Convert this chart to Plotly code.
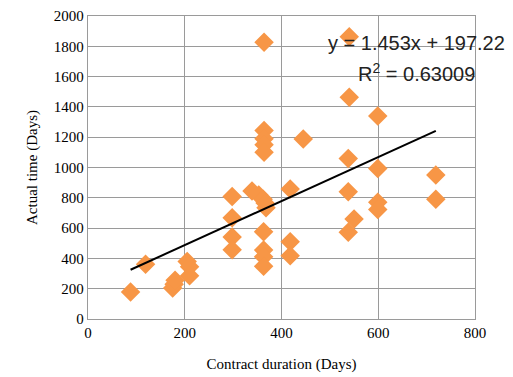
import plotly.graph_objects as go

# Contract duration (Days) vs Actual time (Days)
contract_days = [88, 119, 175, 178, 180, 205, 210, 210,
                 298, 298, 298, 298,
                 339, 353, 362, 366, 368,
                 363, 363, 363, 363,
                 364, 364, 364, 364, 364,
                 418, 418, 418,
                 445,
                 540, 540, 538, 538, 550, 538,
                 599, 599, 599, 599,
                 719, 719]
actual_days = [178, 361, 205, 230, 255, 380, 345, 285,
               808, 668, 541, 457,
               845, 818, 790, 765, 735,
               576, 455, 411, 348,
               1826, 1245, 1190, 1150, 1100,
               858, 510, 418,
               1188,
               1863, 1463, 1060, 840, 660, 572,
               1340, 994, 770, 723,
               950, 790]

slope = 1.453
intercept = 197.22
r2_text = "0.63009"

x_ticks = [0, 200, 400, 600, 800]
y_ticks = [0, 200, 400, 600, 800, 1000, 1200, 1400, 1600, 1800, 2000]

trend_x = [min(contract_days), max(contract_days)]
trend_y = [slope * v + intercept for v in trend_x]

fig = go.Figure()
fig.add_trace(go.Scatter(
    x=contract_days, y=actual_days, mode="markers",
    marker=dict(symbol="diamond", size=15, color="#F79646"),
    showlegend=False, hoverinfo="x+y"))
fig.add_trace(go.Scatter(
    x=trend_x, y=trend_y, mode="lines",
    line=dict(color="black", width=2), showlegend=False))

fig.add_annotation(x=680, y=1820, xref="x", yref="y", xanchor="center", yanchor="middle",
                   text=f"y = {slope}x + {intercept}", showarrow=False,
                   font=dict(family="Liberation Sans, Arial", size=20, color="#222"))
fig.add_annotation(x=680, y=1625, xref="x", yref="y", xanchor="center", yanchor="middle",
                   text=f"R<sup>2</sup> = {r2_text}", showarrow=False,
                   font=dict(family="Liberation Sans, Arial", size=20, color="#222"))

axis_common = dict(showgrid=True, gridcolor="#9a9a9a", gridwidth=1.3,
                   showline=True, linecolor="#9a9a9a", linewidth=1.3, mirror=True,
                   zeroline=False, ticks="", automargin=False,
                   tickfont=dict(family="Liberation Serif, Times New Roman", size=15, color="black"),
                   title_font=dict(family="Liberation Serif, Times New Roman", size=15, color="black"))

fig.update_xaxes(range=[0, 800], tickvals=x_ticks,
                 title_text="Contract duration (Days)", title_standoff=18, **axis_common)
fig.update_yaxes(range=[0, 2000], tickvals=y_ticks,
                 title_text="Actual time (Days)", title_standoff=12, **axis_common)

fig.update_layout(width=513, height=377,
                  margin=dict(l=88, r=38, t=16, b=58),
                  plot_bgcolor="white", paper_bgcolor="white")

fig.write_html("out.html")
